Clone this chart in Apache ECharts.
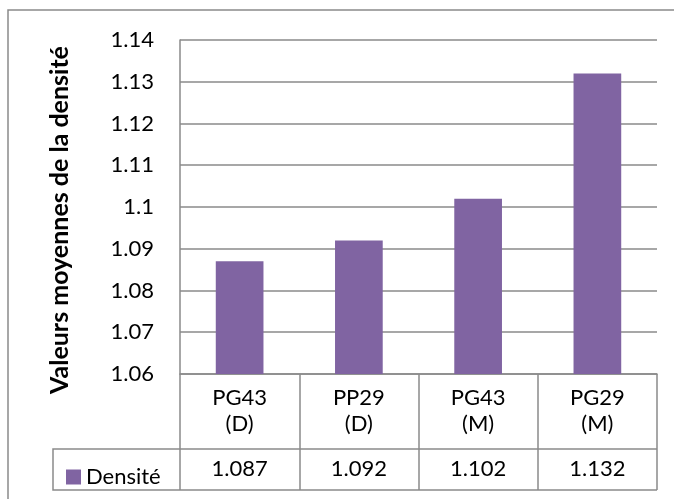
<!DOCTYPE html>
<html><head><meta charset="utf-8">
<script src="https://cdn.jsdelivr.net/npm/echarts@6/dist/echarts.min.js"></script>
<style>html,body{margin:0;padding:0;background:#fff}#c{width:674px;height:499px}</style>
</head><body><div id="c"></div>
<script>
const categories = ['PG43\n(D)', 'PP29\n(D)', 'PG43\n(M)', 'PG29\n(M)'];
const densite = [1.087, 1.092, 1.102, 1.132];
const seriesName = 'Densité';
const yTitle = 'Valeurs moyennes de la densité';
const yMin = 1.06, yMax = 1.14, yStep = 0.01;

const FONT = 'Lato';
const GRAY = '#8a8a8a';
const chart = echarts.init(document.getElementById('c'), null, {renderer: 'canvas'});
chart.setOption({
  animation: false,
  textStyle: {fontFamily: FONT, color: '#000'},
  grid: {left: 180, right: 17, top: 40, bottom: 125},
  legend: {
    data: [seriesName], left: 61, top: 461, icon: 'rect',
    itemWidth: 15, itemHeight: 15, itemGap: 8,
    textStyle: {fontFamily: FONT, fontSize: 22, color: '#000'}
  },
  xAxis: [{
    type: 'category', data: categories, position: 'bottom',
    axisLine: {show: true, lineStyle: {color: GRAY, width: 1.5}},
    axisTick: {show: true, length: 116, lineStyle: {color: GRAY, width: 1.5}},
    axisLabel: {fontFamily: FONT, fontSize: 22, color: '#000', lineHeight: 26, margin: 11, interval: 0}
  }, {
    type: 'category', data: densite.map(v => v.toFixed(3)), position: 'bottom',
    axisLine: {show: false}, axisTick: {show: false},
    axisLabel: {fontFamily: FONT, fontSize: 22, color: '#000', lineHeight: 26, margin: 82, interval: 0}
  }],
  yAxis: {
    type: 'value', min: yMin, max: yMax, interval: yStep,
    name: yTitle, nameLocation: 'middle', nameGap: 108, nameRotate: 90,
    nameTextStyle: {fontFamily: FONT, fontSize: 25, fontWeight: 'bold', color: '#000', padding: [0, 26, 0, 0]},
    axisLine: {show: true, lineStyle: {color: GRAY, width: 1.5}},
    axisTick: {show: false},
    splitLine: {lineStyle: {color: GRAY, width: 1.5}},
    axisLabel: {fontFamily: FONT, fontSize: 22, color: '#000', margin: 26,
      formatter: v => String(parseFloat(v.toFixed(2)))}
  },
  series: [{
    name: seriesName, type: 'bar', xAxisIndex: 0, data: densite,
    barWidth: '40%', itemStyle: {color: '#8064A2'}
  }],
  graphic: [
    {type: 'rect', shape: {x: 8, y: 10, width: 690, height: 520}, style: {fill: 'none', stroke: GRAY, lineWidth: 1.5}, silent: true},
    {type: 'polyline', shape: {points: [[657, 449], [53, 449], [53, 490], [657, 490]]}, style: {fill: 'none', stroke: GRAY, lineWidth: 1.5}, silent: true}
  ]
});
</script></body></html>
